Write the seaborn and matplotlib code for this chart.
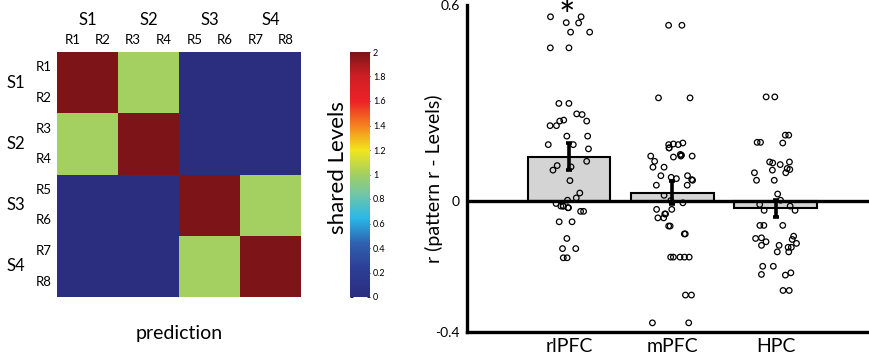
import numpy as np
import pandas as pd
import matplotlib
matplotlib.use("Agg")
import matplotlib.pyplot as plt
import matplotlib.transforms as mtransforms
from matplotlib.colors import LinearSegmentedColormap
import seaborn as sns

sns.set_theme(style="white")
plt.rcParams['font.family'] = ['Lato', 'DejaVu Sans']
plt.rcParams.update({"text.color": "black", "axes.labelcolor": "black",
                     "xtick.color": "black", "ytick.color": "black"})

# ---------------- data ----------------
run_labels = ["R1", "R2", "R3", "R4", "R5", "R6", "R7", "R8"]
set_labels = ["S1", "S2", "S3", "S4"]
shared_levels = [
    [2, 2, 1, 1, 0, 0, 0, 0],
    [2, 2, 1, 1, 0, 0, 0, 0],
    [1, 1, 2, 2, 0, 0, 0, 0],
    [1, 1, 2, 2, 0, 0, 0, 0],
    [0, 0, 0, 0, 2, 2, 1, 1],
    [0, 0, 0, 0, 2, 2, 1, 1],
    [0, 0, 0, 0, 1, 1, 2, 2],
    [0, 0, 0, 0, 1, 1, 2, 2],
]
cbar_ticks = [0, 0.2, 0.4, 0.6, 0.8, 1, 1.2, 1.4, 1.6, 1.8, 2]
cbar_tick_labels = ["0", "0.2", "0.4", "0.6", "0.8", "1", "1.2", "1.4", "1.6", "1.8", "2"]

regions = ["rlPFC", "mPFC", "HPC"]
region_means = [0.136, 0.026, -0.022]
region_sems = [0.041, 0.036, 0.027]

rlpfc_r = [0.564, 0.564, 0.546, 0.545, 0.517, 0.517, 0.469, 0.469,
           0.299, 0.299, 0.267, 0.265, 0.248, 0.231, 0.245, 0.245, 0.231,
           0.199, 0.199, 0.173, 0.173, 0.160, 0.109, 0.105, 0.122, 0.095,
           0.063, 0.025, 0.010, 0.003, -0.007, -0.020, -0.015, -0.020,
           -0.015, -0.031, -0.031, -0.015, -0.063, -0.063, -0.114,
           -0.145, -0.145, -0.173, -0.173]
mpfc_r = [0.538, 0.538, 0.316, 0.316,
          0.178, 0.163, 0.163, 0.173, 0.175, 0.173,
          0.138, 0.122, 0.141, 0.135, 0.138, 0.138, 0.143,
          0.104, 0.104, 0.069, 0.078, 0.064, 0.066, 0.078, 0.073,
          0.049, 0.049, 0.018, 0.002, -0.005,
          -0.025, -0.025, -0.039, -0.039, -0.051, -0.051,
          -0.076, -0.076, -0.100, -0.100,
          -0.171, -0.171, -0.171, -0.171, -0.171,
          -0.287, -0.287, -0.372, -0.372]
hpc_r = [0.319, 0.319, 0.202, 0.202, 0.180, 0.178, 0.180,
         0.120, 0.120, 0.117, 0.112, 0.087, 0.097, 0.100, 0.087, 0.095,
         0.064, 0.064, 0.022,
         0.003, -0.015, -0.028, -0.010, -0.028,
         -0.074, -0.074, -0.074,
         -0.135, -0.135, -0.141, -0.141, -0.114, -0.155, -0.155, -0.129,
         -0.124, -0.112, -0.117, -0.107,
         -0.199, -0.199, -0.226, -0.219, -0.224, -0.273, -0.273]

# ---------------- figure ----------------
fig = plt.figure(figsize=(8.70, 3.59), dpi=100)
W, H = 870.0, 359.0

def box(l, t, r, b):
    return [l / W, 1 - b / H, (r - l) / W, (b - t) / H]

ax_hm = fig.add_axes(box(57, 52, 301, 297))
cax = fig.add_axes(box(350, 52, 370, 297))
ax_bar = fig.add_axes(box(467, 5, 870, 332))

jet_like = LinearSegmentedColormap.from_list("jetlike", [
    (0.00, "#2b2e7f"), (0.12, "#2d3f97"), (0.22, "#2f62b0"),
    (0.32, "#2ab7e8"), (0.42, "#72c6a6"), (0.50, "#a2cf62"),
    (0.60, "#f2e51d"), (0.70, "#f58220"), (0.80, "#ec2227"),
    (0.90, "#cf1f25"), (1.00, "#7d1518")])

sns.heatmap(np.array(shared_levels), cmap=jet_like, vmin=0, vmax=2,
            ax=ax_hm, cbar_ax=cax, xticklabels=run_labels,
            yticklabels=run_labels)
ax_hm.xaxis.tick_top()
ax_hm.tick_params(axis="both", length=0, labelsize=9.5, pad=4)
plt.setp(ax_hm.get_yticklabels(), rotation=0)
plt.setp(ax_hm.get_xticklabels(), rotation=0)

trans_x = mtransforms.blended_transform_factory(ax_hm.transData, ax_hm.transAxes)
trans_y = mtransforms.blended_transform_factory(ax_hm.transAxes, ax_hm.transData)
for i, s in enumerate(set_labels):
    ax_hm.text(2 * i + 1, 1.13, s, transform=trans_x, ha="center",
               va="center", fontsize=12)
    ax_hm.text(-0.168, 2 * i + 1, s, transform=trans_y, ha="center",
               va="center", fontsize=12)
ax_hm.text(0.5, -0.147, "prediction", transform=ax_hm.transAxes,
           ha="center", va="center", fontsize=14)

cax.set_yticks(cbar_ticks)
cax.set_yticklabels(cbar_tick_labels)
cax.tick_params(axis="y", direction="in", left=True, right=True,
                labelleft=False, labelright=True, length=2.5, width=0.6,
                labelsize=6.5, pad=2)
fig.text(338 / W, 1 - 168 / H, "shared Levels", rotation=90,
         ha="center", va="center", fontsize=16)

# ---------------- bar / strip plot ----------------
df_bar = pd.DataFrame({"region": regions, "r": region_means})
sns.barplot(data=df_bar, x="region", y="r", order=regions, color="#d4d4d4",
            saturation=1, edgecolor="black", linewidth=1.5, width=0.8,
            errorbar=None, ax=ax_bar, zorder=2)
ax_bar.axhline(0, color="black", linewidth=2.4, zorder=3)

df_pts = pd.DataFrame({
    "region": ["rlPFC"] * len(rlpfc_r) + ["mPFC"] * len(mpfc_r) + ["HPC"] * len(hpc_r),
    "r": rlpfc_r + mpfc_r + hpc_r})
np.random.seed(7)
sns.stripplot(data=df_pts, x="region", y="r", order=regions, jitter=0.21,
              size=4, facecolor="none", edgecolor="black", linewidth=0.9,
              ax=ax_bar, zorder=4)
for coll in ax_bar.collections:
    coll.set_facecolor("none")

ax_bar.errorbar(x=range(len(regions)), y=region_means, yerr=region_sems,
                fmt="none", ecolor="black", elinewidth=2.6, capsize=2,
                capthick=2.6, zorder=5)

ax_bar.text(-0.02, 0.56, "*", ha="center", va="center", fontsize=28)

ax_bar.set_xlim(-0.985, 2.91)
ax_bar.set_ylim(-0.4, 0.6)
ax_bar.set_yticks([-0.4, 0, 0.6])
ax_bar.set_yticklabels(["-0.4", "0", "0.6"])
ax_bar.set_xlabel("")
ax_bar.set_ylabel("r (pattern r - Levels)", fontsize=14)
ax_bar.yaxis.set_label_coords(-0.06, 0.47)
sns.despine(ax=ax_bar, top=True, right=True)
for sp in ["left", "bottom"]:
    ax_bar.spines[sp].set_linewidth(2.4)
    ax_bar.spines[sp].set_color("black")
ax_bar.tick_params(axis="both", direction="in", length=3, width=2,
                   color="black")
ax_bar.tick_params(axis="y", labelsize=10, pad=5)
ax_bar.tick_params(axis="x", labelsize=14, pad=4)

fig.savefig("out.png", dpi=100)
